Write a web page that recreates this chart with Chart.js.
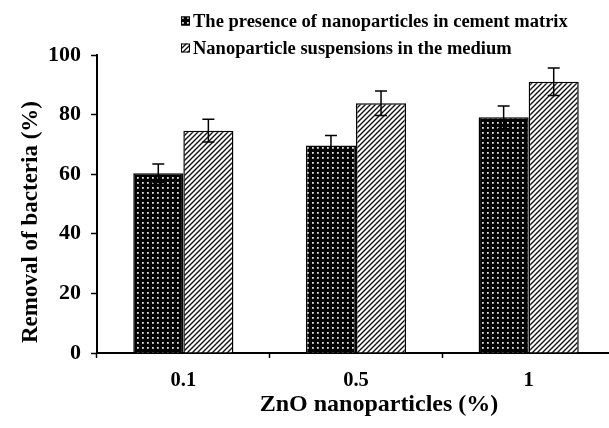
<!DOCTYPE html>
<html>
<head>
<meta charset="utf-8">
<script src="https://cdn.jsdelivr.net/npm/chart.js@4"></script>
<style>
    html, body { margin: 0; padding: 0; background: #fff; overflow: hidden; }
    #chart { display: block; }
</style>
</head>
<body>
<canvas id="chart" width="616" height="428"></canvas>
<script>
// Chart data
const categories = ['0.1', '0.5', '1'];
const seriesNames = [
    'The presence of nanoparticles in cement matrix',
    'Nanoparticle suspensions in the medium'
];
const cementMatrix = [60.3, 69.6, 79.1];
const cementMatrixErr = [3.1, 3.4, 3.8];
const suspension = [74.6, 83.8, 91.0];
const suspensionErr = [3.8, 4.1, 4.6];
const yTicks = [0, 20, 40, 60, 80, 100];
const xTitle = 'ZnO nanoparticles (%)';
const yTitle = 'Removal of bacteria (%)';

const FONT = "'Liberation Serif', 'Times New Roman', serif";

// Function to build the dotted (dark) fill
function makeDotPattern() {
    const c = document.createElement('canvas');
    c.width = 5;
    c.height = 5;
    const g = c.getContext('2d');
    g.fillStyle = '#000';
    g.fillRect(0, 0, 5, 5);
    g.fillStyle = 'rgba(235,235,235,0.95)';
    g.fillRect(2, 2, 1.8, 1.8);
    return g.createPattern(c, 'repeat');
}

// Function to build the diagonal hatch fill
function makeHatchPattern() {
    const s = 5;
    const c = document.createElement('canvas');
    c.width = s;
    c.height = s;
    const g = c.getContext('2d');
    g.fillStyle = '#fff';
    g.fillRect(0, 0, s, s);
    g.strokeStyle = '#111';
    g.lineWidth = 1.4;
    g.beginPath();
    g.moveTo(-1, s + 1);
    g.lineTo(s + 1, -1);
    g.moveTo(-1, 1);
    g.lineTo(1, -1);
    g.moveTo(s - 1, s + 1);
    g.lineTo(s + 1, s - 1);
    g.stroke();
    return g.createPattern(c, 'repeat');
}

const dotFill = makeDotPattern();
const hatchFill = makeHatchPattern();

// Error bars drawn from the dataset values
const errorBars = {
    id: 'errorBars',
    afterDatasetsDraw(chart) {
        const ctx = chart.ctx;
        const y = chart.scales.y;
        ctx.save();
        ctx.strokeStyle = '#000';
        ctx.lineWidth = 1.5;
        chart.data.datasets.forEach((ds, i) => {
            const meta = chart.getDatasetMeta(i);
            meta.data.forEach((bar, j) => {
                const v = ds.data[j];
                const e = ds.errors[j];
                const top = y.getPixelForValue(v + e);
                const bottom = y.getPixelForValue(v - e);
                ctx.beginPath();
                ctx.moveTo(bar.x, top);
                ctx.lineTo(bar.x, bottom);
                ctx.moveTo(bar.x - 6, top);
                ctx.lineTo(bar.x + 6, top);
                ctx.moveTo(bar.x - 6, bottom);
                ctx.lineTo(bar.x + 6, bottom);
                ctx.stroke();
            });
        });
        ctx.restore();
    }
};

// Legend stacked in two left-aligned rows, plus the axis titles
// (the titles sit off-centre in the original, so they are placed by hand)
const decorations = {
    id: 'decorations',
    afterDraw(chart) {
        const ctx = chart.ctx;
        const x = 181;
        const rows = [21, 48];
        ctx.save();
        ctx.font = `bold 18.5px ${FONT}`;
        ctx.textBaseline = 'middle';
        chart.data.datasets.forEach((ds, i) => {
            const cy = rows[i];
            ctx.fillStyle = ds.backgroundColor;
            ctx.fillRect(x, cy - 4.5, 9, 9);
            ctx.strokeStyle = '#000';
            ctx.lineWidth = 1;
            ctx.strokeRect(x + 0.5, cy - 4, 8, 8);
            ctx.fillStyle = '#000';
            ctx.fillText(ds.label, x + 12, cy + 1);
        });

        ctx.fillStyle = '#000';
        ctx.textAlign = 'center';
        ctx.font = `bold 24px ${FONT}`;
        ctx.fillText(xTitle, 379, 405);

        ctx.translate(31, 222);
        ctx.rotate(-Math.PI / 2);
        ctx.font = `bold 23px ${FONT}`;
        ctx.fillText(yTitle, 0, 0);
        ctx.restore();
    }
};

const ctx = document.getElementById('chart').getContext('2d');

new Chart(ctx, {
    type: 'bar',
    data: {
        labels: categories,
        datasets: [{
            label: seriesNames[0],
            data: cementMatrix,
            errors: cementMatrixErr,
            backgroundColor: dotFill,
            borderColor: '#000',
            borderWidth: 1.5
        }, {
            label: seriesNames[1],
            data: suspension,
            errors: suspensionErr,
            backgroundColor: hatchFill,
            borderColor: '#000',
            borderWidth: 1.5
        }]
    },
    options: {
        responsive: false,
        animation: false,
        categoryPercentage: 0.58,
        barPercentage: 1.0,
        layout: {
            padding: { top: 55, right: 1, bottom: 0, left: 0 }
        },
        plugins: {
            legend: { display: false },
            tooltip: { enabled: false }
        },
        scales: {
            x: {
                grid: {
                    offset: true,
                    drawOnChartArea: false,
                    drawTicks: true,
                    tickLength: 5,
                    tickColor: '#000',
                    tickWidth: 1.5
                },
                border: { display: true, color: '#000', width: 2 },
                ticks: {
                    color: '#000',
                    padding: 10,
                    font: { family: FONT, size: 20.5, weight: 'bold' }
                },
                afterFit(scale) { scale.height = 75; }
            },
            y: {
                min: 0,
                max: 100,
                afterBuildTicks(scale) {
                    scale.ticks = yTicks.map(v => ({ value: v }));
                },
                grid: {
                    drawOnChartArea: false,
                    drawTicks: true,
                    tickLength: 6,
                    tickColor: '#000',
                    tickWidth: 1.5
                },
                border: { display: true, color: '#000', width: 2 },
                ticks: {
                    color: '#000',
                    padding: 10,
                    font: { family: FONT, size: 22, weight: 'bold' }
                },
                afterFit(scale) { scale.width = 97; }
            }
        }
    },
    plugins: [errorBars, decorations]
});
</script>
</body>
</html>
